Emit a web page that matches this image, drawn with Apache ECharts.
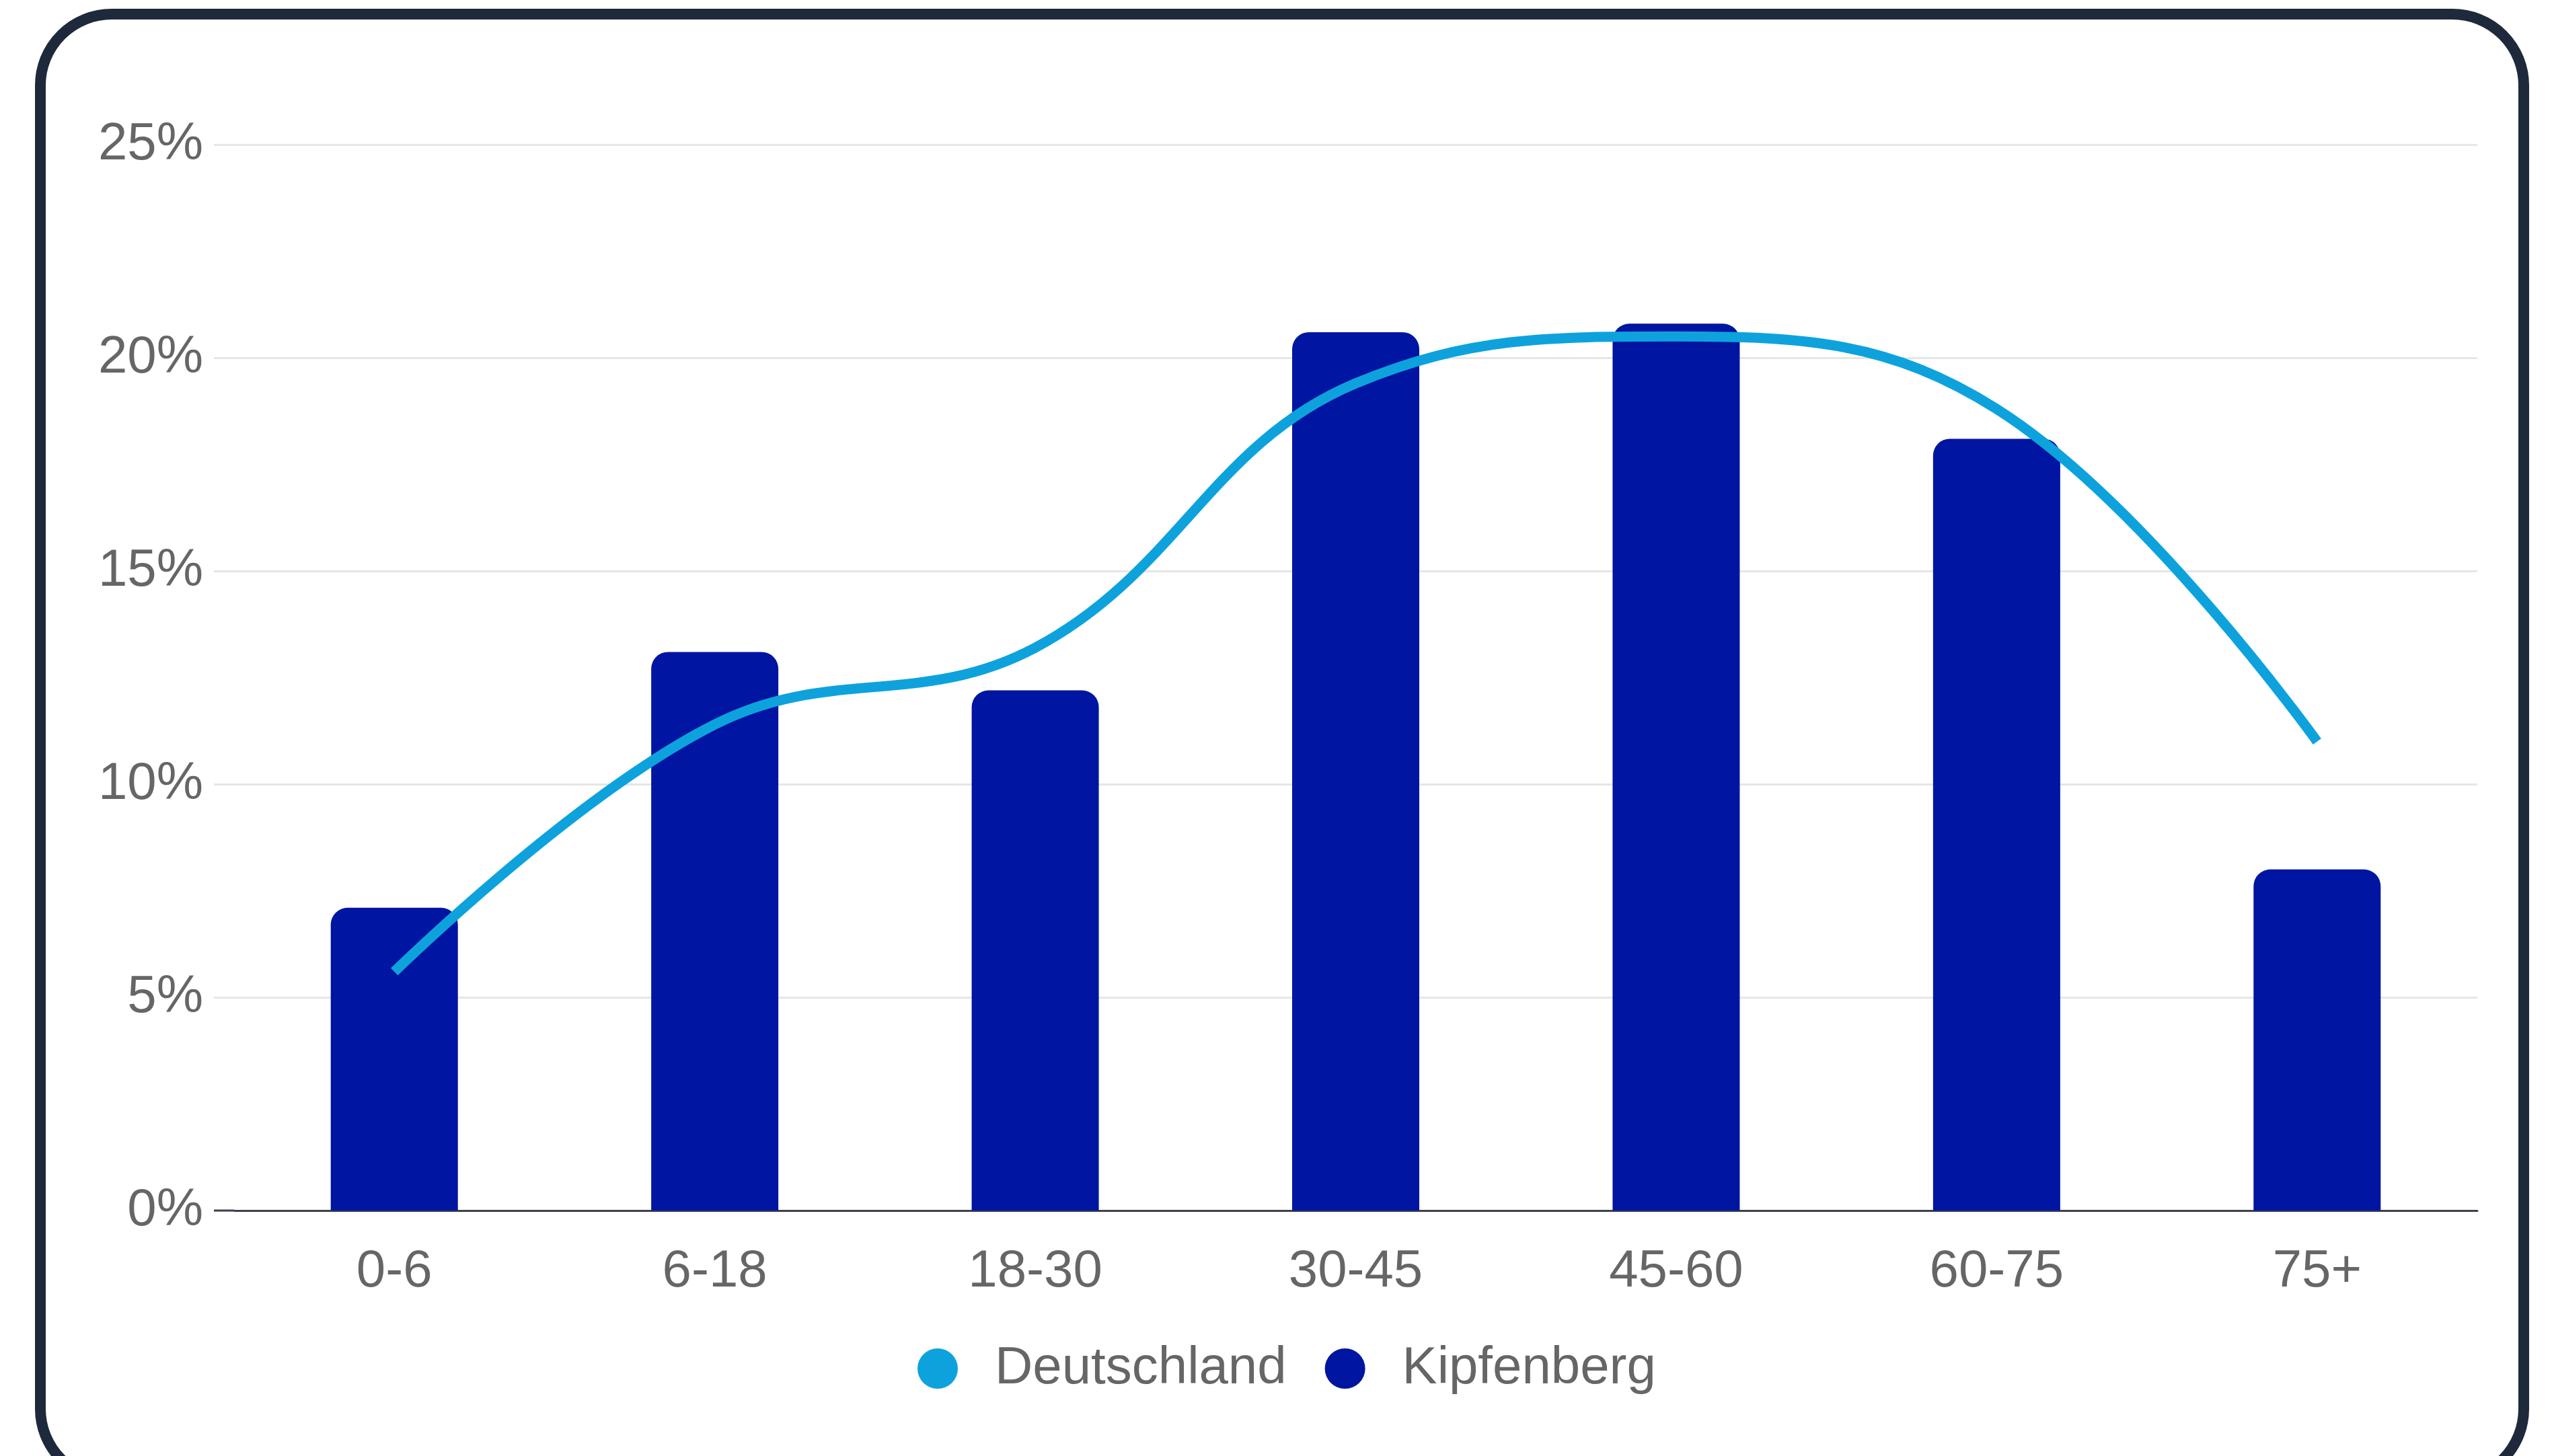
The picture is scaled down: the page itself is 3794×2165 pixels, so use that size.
<!DOCTYPE html>
<html>
<head>
<meta charset="utf-8">
<title>Altersstruktur Kipfenberg</title>
<script src="https://cdn.jsdelivr.net/npm/echarts@6/dist/echarts.min.js"></script>
<style>
  html, body { margin: 0; padding: 0; background: #ffffff; }
  #chart { width: 3794px; height: 2165px; }
</style>
</head>
<body>
<div id="chart"></div>
<script>
// Age groups (years)
const ageGroups = ['0-6', '6-18', '18-30', '30-45', '45-60', '60-75', '75+'];
// Share of population per age group, in percent
const deutschland = [5.6, 11.4, 13.2, 19.4, 20.5, 18.8, 11.0];
const kipfenberg = [7.1, 13.1, 12.2, 20.6, 20.8, 18.1, 8.0];
// Y axis range and step (percent)
const yMin = 0;
const yMax = 25;
const yStep = 5;

const FONT = "'Liberation Sans', Arial, Helvetica, sans-serif";
const TEXT_GREY = '#666666';
const GRID_GREY = '#e6e6e6';
const AXIS_DARK = '#3c4150';
const LIGHT_BLUE = '#0ea2dd';
const DARK_BLUE = '#0015a1';
const TICK_LEN = 30;

const chart = echarts.init(document.getElementById('chart'), null, { renderer: 'canvas' });

chart.setOption({
  animation: false,
  backgroundColor: '#ffffff',
  graphic: [{
    id: 'frame',
    type: 'rect',
    z: 0,
    silent: true,
    shape: { x: 60, y: 21, width: 3692, height: 2180, r: 106 },
    style: { fill: '#ffffff', stroke: '#1e293b', lineWidth: 16 }
  }],
  grid: { left: 348, right: 111, top: 215, bottom: 365, containLabel: false },
  legend: {
    data: ['Deutschland', 'Kipfenberg'],
    icon: 'circle',
    itemWidth: 60,
    itemHeight: 60,
    itemGap: 57,
    left: 1359,
    top: 1991,
    textStyle: {
      fontFamily: FONT,
      fontSize: 78,
      color: TEXT_GREY,
      padding: [0, 0, 0, 50]
    }
  },
  xAxis: {
    type: 'category',
    data: ageGroups,
    axisLine: { show: true, lineStyle: { color: AXIS_DARK, width: 3 } },
    axisTick: { show: false },
    splitLine: { show: false },
    axisLabel: {
      fontFamily: FONT,
      fontSize: 78,
      color: TEXT_GREY,
      margin: 52
    }
  },
  yAxis: {
    type: 'value',
    min: yMin,
    max: yMax,
    interval: yStep,
    axisLine: { show: false },
    axisTick: { show: true, length: TICK_LEN, lineStyle: { color: GRID_GREY, width: 3 } },
    splitLine: { show: true, lineStyle: { color: GRID_GREY, width: 3 } },
    axisLabel: {
      fontFamily: FONT,
      fontSize: 78,
      color: TEXT_GREY,
      margin: 46,
      formatter: '{value}%'
    }
  },
  series: [
    {
      name: 'Kipfenberg',
      type: 'bar',
      data: kipfenberg,
      barWidth: 189,
      itemStyle: { color: DARK_BLUE, borderRadius: [25, 25, 0, 0] },
      z: 2
    },
    {
      name: 'Deutschland',
      type: 'line',
      data: deutschland,
      smooth: 0.4,
      showSymbol: false,
      symbol: 'none',
      itemStyle: { color: LIGHT_BLUE },
      lineStyle: { color: LIGHT_BLUE, width: 15, cap: 'butt' },
      z: 3
    }
  ]
});

// The zero tick continues the dark baseline into the tick area.
const origin = chart.convertToPixel({ gridIndex: 0 }, [0, yMin]);
const gridRect = chart.getModel().getComponent('grid', 0).coordinateSystem.getRect();
chart.setOption({
  graphic: [{
    id: 'zeroTick',
    type: 'line',
    z: 10,
    silent: true,
    shape: { x1: gridRect.x - TICK_LEN, y1: origin[1], x2: gridRect.x, y2: origin[1] },
    style: { stroke: AXIS_DARK, lineWidth: 3 }
  }]
});
</script>
</body>
</html>
